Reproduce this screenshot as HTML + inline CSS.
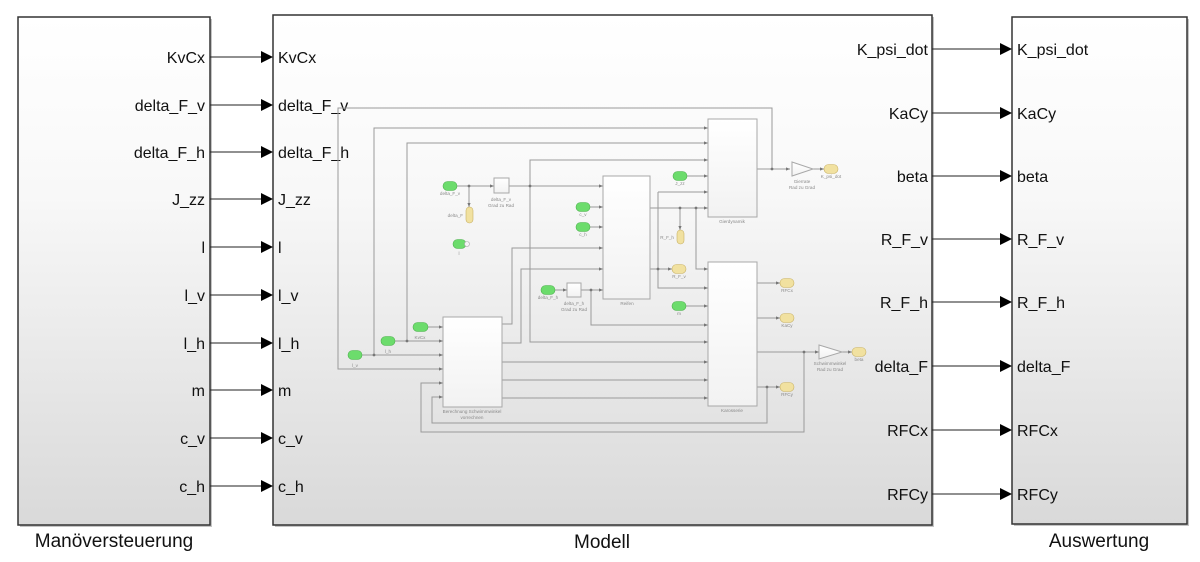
<!DOCTYPE html>
<html>
<head>
<meta charset="utf-8">
<style>
  html,body{margin:0;padding:0;background:#fff;}
  svg{display:block;}
  .port{font-family:"Liberation Sans",Arial,sans-serif;font-size:16px;fill:#111;}
  .title{font-family:"Liberation Sans",Arial,sans-serif;font-size:19px;fill:#111;}
  .sm{font-family:"Liberation Sans",Arial,sans-serif;font-size:4.6px;fill:#8a8a8a;}
  .w{fill:none;stroke:#9a9a9a;stroke-width:1;}
  .k{fill:none;stroke:#222;stroke-width:1;}
</style>
</head>
<body>
<svg width="1200" height="562" viewBox="0 0 1200 562" xmlns="http://www.w3.org/2000/svg">
  <defs>
    <linearGradient id="bg" x1="0" y1="0" x2="0" y2="1">
      <stop offset="0" stop-color="#ffffff"/>
      <stop offset="0.35" stop-color="#f8f8f8"/>
      <stop offset="1" stop-color="#d9d9d9"/>
    </linearGradient>
    <linearGradient id="ib" x1="0" y1="0" x2="0" y2="1">
      <stop offset="0" stop-color="#ffffff"/>
      <stop offset="1" stop-color="#f2f2f2"/>
    </linearGradient>
    <marker id="a" viewBox="0 0 10 10" refX="10" refY="5" markerWidth="4" markerHeight="4" orient="auto" markerUnits="userSpaceOnUse">
      <path d="M0,1 L10,5 L0,9 z" fill="#777"/>
    </marker>
  </defs>

  <!-- shadows -->
  <rect x="20" y="19" width="192" height="508" fill="#c4c4c4"/>
  <rect x="275" y="17" width="659" height="510" fill="#c4c4c4"/>
  <rect x="1014" y="19" width="175" height="507" fill="#c4c4c4"/>

  <!-- outer blocks -->
  <rect x="18" y="17" width="192" height="508" fill="url(#bg)" stroke="#333" stroke-width="1.5"/>
  <rect x="273" y="15" width="659" height="510" fill="url(#bg)" stroke="#333" stroke-width="1.5"/>
  <rect x="1012" y="17" width="175" height="507" fill="url(#bg)" stroke="#333" stroke-width="1.5"/>

  <!-- left connections -->
  <g>
    <g class="port" text-anchor="end">
      <text x="205" y="63">KvCx</text>
      <text x="205" y="111">delta_F_v</text>
      <text x="205" y="158">delta_F_h</text>
      <text x="205" y="205">J_zz</text>
      <text x="205" y="253">l</text>
      <text x="205" y="301">l_v</text>
      <text x="205" y="349">l_h</text>
      <text x="205" y="396">m</text>
      <text x="205" y="444">c_v</text>
      <text x="205" y="492">c_h</text>
    </g>
    <g class="port">
      <text x="278" y="63">KvCx</text>
      <text x="278" y="111">delta_F_v</text>
      <text x="278" y="158">delta_F_h</text>
      <text x="278" y="205">J_zz</text>
      <text x="278" y="253">l</text>
      <text x="278" y="301">l_v</text>
      <text x="278" y="349">l_h</text>
      <text x="278" y="396">m</text>
      <text x="278" y="444">c_v</text>
      <text x="278" y="492">c_h</text>
    </g>
    <g stroke="#222" stroke-width="1">
      <line x1="210" y1="57" x2="262" y2="57"/>
      <line x1="210" y1="105" x2="262" y2="105"/>
      <line x1="210" y1="152" x2="262" y2="152"/>
      <line x1="210" y1="199" x2="262" y2="199"/>
      <line x1="210" y1="247" x2="262" y2="247"/>
      <line x1="210" y1="295" x2="262" y2="295"/>
      <line x1="210" y1="343" x2="262" y2="343"/>
      <line x1="210" y1="390" x2="262" y2="390"/>
      <line x1="210" y1="438" x2="262" y2="438"/>
      <line x1="210" y1="486" x2="262" y2="486"/>
    </g>
    <g fill="#000">
      <path d="M261,51 L273,57 L261,63z"/>
      <path d="M261,99 L273,105 L261,111z"/>
      <path d="M261,146 L273,152 L261,158z"/>
      <path d="M261,193 L273,199 L261,205z"/>
      <path d="M261,241 L273,247 L261,253z"/>
      <path d="M261,289 L273,295 L261,301z"/>
      <path d="M261,337 L273,343 L261,349z"/>
      <path d="M261,384 L273,390 L261,396z"/>
      <path d="M261,432 L273,438 L261,444z"/>
      <path d="M261,480 L273,486 L261,492z"/>
    </g>
  </g>

  <!-- right connections -->
  <g>
    <g class="port" text-anchor="end">
      <text x="928" y="55">K_psi_dot</text>
      <text x="928" y="119">KaCy</text>
      <text x="928" y="182">beta</text>
      <text x="928" y="245">R_F_v</text>
      <text x="928" y="308">R_F_h</text>
      <text x="928" y="372">delta_F</text>
      <text x="928" y="436">RFCx</text>
      <text x="928" y="500">RFCy</text>
    </g>
    <g class="port">
      <text x="1017" y="55">K_psi_dot</text>
      <text x="1017" y="119">KaCy</text>
      <text x="1017" y="182">beta</text>
      <text x="1017" y="245">R_F_v</text>
      <text x="1017" y="308">R_F_h</text>
      <text x="1017" y="372">delta_F</text>
      <text x="1017" y="436">RFCx</text>
      <text x="1017" y="500">RFCy</text>
    </g>
    <g stroke="#222" stroke-width="1">
      <line x1="932" y1="49" x2="1001" y2="49"/>
      <line x1="932" y1="113" x2="1001" y2="113"/>
      <line x1="932" y1="176" x2="1001" y2="176"/>
      <line x1="932" y1="239" x2="1001" y2="239"/>
      <line x1="932" y1="302" x2="1001" y2="302"/>
      <line x1="932" y1="366" x2="1001" y2="366"/>
      <line x1="932" y1="430" x2="1001" y2="430"/>
      <line x1="932" y1="494" x2="1001" y2="494"/>
    </g>
    <g fill="#000">
      <path d="M1000,43 L1012,49 L1000,55z"/>
      <path d="M1000,107 L1012,113 L1000,119z"/>
      <path d="M1000,170 L1012,176 L1000,182z"/>
      <path d="M1000,233 L1012,239 L1000,245z"/>
      <path d="M1000,296 L1012,302 L1000,308z"/>
      <path d="M1000,360 L1012,366 L1000,372z"/>
      <path d="M1000,424 L1012,430 L1000,436z"/>
      <path d="M1000,488 L1012,494 L1000,500z"/>
    </g>
  </g>

  <!-- titles -->
  <text class="title" x="114" y="547" text-anchor="middle">Manöversteuerung</text>
  <text class="title" x="602" y="548" text-anchor="middle">Modell</text>
  <text class="title" x="1099" y="547" text-anchor="middle">Auswertung</text>

  <!-- ================= inner diagram ================= -->
  <!-- wires -->
  <g class="w">
    <!-- Gierdynamik output & feedback -->
    <polyline points="757,169 790,169" marker-end="url(#a)"/>
    <polyline points="813,169 824,169" marker-end="url(#a)"/>
    <polyline points="772,169 772,108 338,108 338,369 443,369" marker-end="url(#a)"/>
    <!-- l_v -->
    <polyline points="362,355 443,355" marker-end="url(#a)"/>
    <polyline points="374,355 374,128 708,128" marker-end="url(#a)"/>
    <!-- l_h -->
    <polyline points="395,341 443,341" marker-end="url(#a)"/>
    <polyline points="407,341 407,143 708,143" marker-end="url(#a)"/>
    <!-- KvCx -->
    <polyline points="428,327 443,327" marker-end="url(#a)"/>
    <!-- delta_F_v -->
    <polyline points="457,186 494,186" marker-end="url(#a)"/>
    <polyline points="469,186 469,207" marker-end="url(#a)"/>
    <polyline points="509,186 603,186" marker-end="url(#a)"/>
    <polyline points="530,186 530,160 708,160" marker-end="url(#a)"/>
    <polyline points="530,186 530,342 708,342" marker-end="url(#a)"/>
    <!-- c_v c_h -->
    <polyline points="590,207 603,207" marker-end="url(#a)"/>
    <polyline points="590,227 603,227" marker-end="url(#a)"/>
    <!-- J_zz -->
    <polyline points="687,176 708,176" marker-end="url(#a)"/>
    <!-- Berechnung outputs -->
    <polyline points="502,324 512,324 512,248 603,248" marker-end="url(#a)"/>
    <polyline points="502,343 521,343 521,269 603,269" marker-end="url(#a)"/>
    <polyline points="502,362 708,362" marker-end="url(#a)"/>
    <polyline points="502,380 708,380" marker-end="url(#a)"/>
    <polyline points="502,398 708,398" marker-end="url(#a)"/>
    <!-- delta_F_h -->
    <polyline points="555,290 567,290" marker-end="url(#a)"/>
    <polyline points="581,290 603,290" marker-end="url(#a)"/>
    <polyline points="591,290 591,325 708,325" marker-end="url(#a)"/>
    <!-- Reifen outputs -->
    <polyline points="650,208 708,208" marker-end="url(#a)"/>
    <polyline points="680,208 680,230" marker-end="url(#a)"/>
    <polyline points="696,208 696,269 708,269" marker-end="url(#a)"/>
    <polyline points="650,269 672,269" marker-end="url(#a)"/>
    <polyline points="658,192 708,192" marker-end="url(#a)"/>
    <polyline points="658,192 658,288 708,288" marker-end="url(#a)"/>
    <!-- m -->
    <polyline points="686,306 708,306" marker-end="url(#a)"/>
    <!-- Karosserie outputs -->
    <polyline points="757,283 780,283" marker-end="url(#a)"/>
    <polyline points="757,318 780,318" marker-end="url(#a)"/>
    <polyline points="757,352 819,352" marker-end="url(#a)"/>
    <polyline points="842,352 852,352" marker-end="url(#a)"/>
    <polyline points="757,387 780,387" marker-end="url(#a)"/>
    <!-- feedback loops -->
    <polyline points="767,387 767,423 432,423 432,397 443,397" marker-end="url(#a)"/>
    <polyline points="804,352 804,432 421,432 421,383 443,383" marker-end="url(#a)"/>
  </g>

  <!-- junction dots -->
  <g fill="#777">
    <circle cx="772" cy="169" r="1.4"/>
    <circle cx="374" cy="355" r="1.4"/>
    <circle cx="407" cy="341" r="1.4"/>
    <circle cx="469" cy="186" r="1.4"/>
    <circle cx="530" cy="186" r="1.4"/>
    <circle cx="591" cy="290" r="1.4"/>
    <circle cx="680" cy="208" r="1.4"/>
    <circle cx="696" cy="208" r="1.4"/>
    <circle cx="658" cy="269" r="1.4"/>
    <circle cx="767" cy="387" r="1.4"/>
    <circle cx="804" cy="352" r="1.4"/>
  </g>

  <!-- inner blocks -->
  <g stroke="#a8a8a8" stroke-width="1" fill="url(#ib)">
    <rect x="708" y="119" width="49" height="98"/>
    <rect x="603" y="176" width="47" height="123"/>
    <rect x="708" y="262" width="49" height="144"/>
    <rect x="443" y="317" width="59" height="90"/>
    <rect x="494" y="178" width="15" height="15"/>
    <rect x="567" y="283" width="14" height="14"/>
    <path d="M792,162 L813,169 L792,176 z"/>
    <path d="M819,345 L842,352 L819,359 z"/>
  </g>

  <!-- green inport tags -->
  <g fill="#6cdc6c" stroke="#4fb04f" stroke-width="0.6">
    <rect x="348" y="350.5" width="14" height="9" rx="4.5"/>
    <rect x="381" y="336.5" width="14" height="9" rx="4.5"/>
    <rect x="413" y="322.5" width="15" height="9" rx="4.5"/>
    <rect x="443" y="181.5" width="14" height="9" rx="4.5"/>
    <rect x="453" y="239.5" width="13" height="9" rx="4.5"/>
    <rect x="576" y="202.5" width="14" height="9" rx="4.5"/>
    <rect x="576" y="222.5" width="14" height="9" rx="4.5"/>
    <rect x="673" y="171.5" width="14" height="9" rx="4.5"/>
    <rect x="541" y="285.5" width="14" height="9" rx="4.5"/>
    <rect x="672" y="301.5" width="14" height="9" rx="4.5"/>
  </g>
  <circle cx="467" cy="244" r="2.5" fill="#f4f4f4" stroke="#aaa" stroke-width="0.6"/>

  <!-- yellow goto tags -->
  <g fill="#f1e1a0" stroke="#c9b266" stroke-width="0.6">
    <rect x="466" y="207" width="7" height="16" rx="3.5"/>
    <rect x="677" y="230" width="7" height="14" rx="3.5"/>
    <rect x="672" y="264.5" width="14" height="9" rx="4.5"/>
    <rect x="824" y="164.5" width="14" height="9" rx="4.5"/>
    <rect x="780" y="278.5" width="14" height="9" rx="4.5"/>
    <rect x="780" y="313.5" width="14" height="9" rx="4.5"/>
    <rect x="852" y="347.5" width="14" height="9" rx="4.5"/>
    <rect x="780" y="382.5" width="14" height="9" rx="4.5"/>
  </g>

  <!-- small labels -->
  <g class="sm" text-anchor="middle">
    <text x="355" y="367">l_v</text>
    <text x="388" y="353">l_h</text>
    <text x="420" y="339">KvCx</text>
    <text x="450" y="195">delta_F_v</text>
    <text x="459" y="255">l</text>
    <text x="501" y="201">delta_F_v</text>
    <text x="501" y="207">Grad zu Rad</text>
    <text x="583" y="216">c_v</text>
    <text x="583" y="236">c_h</text>
    <text x="680" y="185">J_zz</text>
    <text x="548" y="299">delta_F_h</text>
    <text x="574" y="305">delta_F_h</text>
    <text x="574" y="311">Grad zu Rad</text>
    <text x="679" y="315">m</text>
    <text x="679" y="278">R_F_v</text>
    <text x="627" y="305">Reifen</text>
    <text x="732" y="223">Gierdynamik</text>
    <text x="732" y="412">Karosserie</text>
    <text x="472" y="413">Berechnung Schwimmwinkel</text>
    <text x="472" y="419">vorrechnen</text>
    <text x="802" y="183">Gierrate</text>
    <text x="802" y="189">Rad zu Grad</text>
    <text x="831" y="178">K_psi_dot</text>
    <text x="787" y="292">RFCx</text>
    <text x="787" y="327">KaCy</text>
    <text x="787" y="396">RFCy</text>
    <text x="859" y="361">beta</text>
    <text x="830" y="365">Schwimmwinkel</text>
    <text x="830" y="371">Rad zu Grad</text>
  </g>
  <g class="sm" text-anchor="end">
    <text x="463" y="217">delta_F</text>
    <text x="674" y="239">R_F_h</text>
  </g>
</svg>
</body>
</html>
